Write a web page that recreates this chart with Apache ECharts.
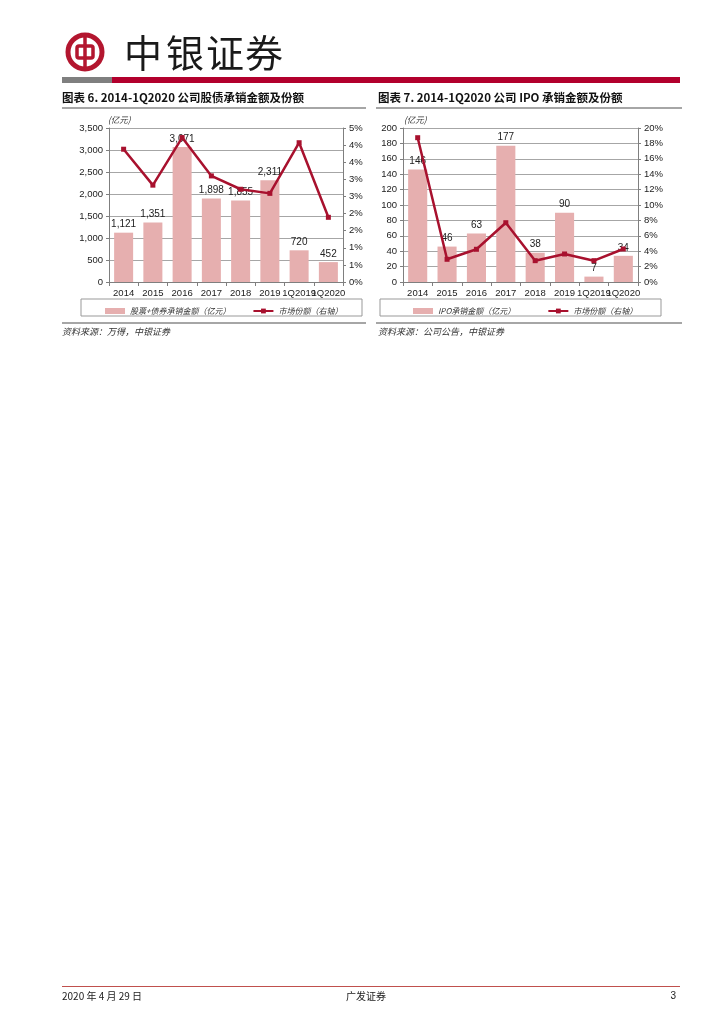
<!DOCTYPE html>
<html>
<head>
<meta charset="utf-8">
<script src="https://cdn.jsdelivr.net/npm/echarts@6/dist/echarts.min.js"></script>
<style>
html,body{margin:0;padding:0;background:#fff;}
#page{width:724px;height:1024px;}
</style>
</head>
<body>
<div id="page"></div>
<script>
// ---- data ----
const categories = ['2014', '2015', '2016', '2017', '2018', '2019', '1Q2019', '1Q2020'];
const equityDebtAmount = [1121, 1351, 3071, 1898, 1855, 2311, 720, 452];      // 亿元
const equityDebtShare = [3.88, 2.83, 4.22, 3.10, 2.71, 2.59, 4.07, 1.89];     // %
const ipoAmount = [146, 46, 63, 177, 38, 90, 7, 34];                          // 亿元
const ipoShare = [18.74, 2.95, 4.25, 7.70, 2.77, 3.64, 2.77, 4.29];           // %
const leftAxis1 = [0, 3500, 500];   // min, max, interval
const rightAxis1 = [0, 4.5, 0.5];
const leftAxis2 = [0, 200, 20];
const rightAxis2 = [0, 20, 2];

const RED = '#A8112E';
const BAR = '#E6AFAF';
const GRID = '#A6A6A6';
const AXIS = '#7F7F7F';
const TXT = '#222';
const NUMFONT = 'Liberation Sans';
const CJK = 'Noto Sans CJK SC';

const chart = echarts.init(document.getElementById('page'), null, {renderer: 'canvas', width: 724, height: 1024});

function fmtThousands(v) { return String(v).replace(/\B(?=(\d{3})+(?!\d))/g, ','); }
function fmtPct(v) { return Math.round(Math.round(v * 10) / 10) + '%'; }

function xAxis(gi) {
  return {
    type: 'category', gridIndex: gi, data: categories,
    axisLine: {lineStyle: {color: AXIS, width: 1}},
    axisTick: {show: true, length: 4, lineStyle: {color: AXIS}},
    axisLabel: {interval: 0, color: TXT, fontFamily: NUMFONT, fontSize: 9.5, margin: 6}
  };
}
function yAxis(gi, cfg, pos, fmt, grid) {
  return {
    type: 'value', gridIndex: gi, position: pos, min: cfg[0], max: cfg[1], interval: cfg[2],
    axisLine: {show: true, lineStyle: {color: AXIS, width: 1}},
    axisTick: {show: true, length: 3, lineStyle: {color: AXIS}},
    splitLine: {show: grid, lineStyle: {color: GRID, width: 1}},
    axisLabel: {color: TXT, fontFamily: NUMFONT, fontSize: 9.5, margin: 6, formatter: fmt}
  };
}
function barSeries(name, data, xi, yi) {
  return {
    name: name, type: 'bar', xAxisIndex: xi, yAxisIndex: yi, data: data, barWidth: '65%',
    itemStyle: {color: BAR},
    label: {show: true, position: 'top', distance: 3, color: TXT, fontFamily: NUMFONT, fontSize: 10,
      formatter: p => fmtThousands(p.value)},
    z: 2
  };
}
function lineSeries(name, data, xi, yi) {
  return {
    name: name, type: 'line', xAxisIndex: xi, yAxisIndex: yi, data: data,
    symbol: 'rect', symbolSize: 5, lineStyle: {color: RED, width: 2.5},
    itemStyle: {color: RED}, z: 5
  };
}

const gfx = [];
// header logo
gfx.push({type: 'circle', shape: {cx: 85, cy: 52, r: 17}, style: {fill: 'none', stroke: '#B3162F', lineWidth: 5}});
gfx.push({type: 'rect', shape: {x: 77, y: 46, width: 16, height: 12, r: 2}, style: {fill: 'none', stroke: '#B3162F', lineWidth: 3.5}});
gfx.push({type: 'line', shape: {x1: 85, y1: 36, x2: 85, y2: 68}, style: {stroke: '#B3162F', lineWidth: 3.5}});
const headChars = ['中', '银', '证', '券'];
const headX = [143, 185, 225, 264];
headChars.forEach((c, i) => gfx.push({type: 'text', x: headX[i], y: 53,
  style: {text: c, fontSize: 38, fontFamily: CJK, fill: '#1a1a1a', align: 'center', verticalAlign: 'middle'}}));
// header bars
gfx.push({type: 'rect', shape: {x: 62, y: 77, width: 50, height: 6}, style: {fill: '#7F7F7F'}});
gfx.push({type: 'rect', shape: {x: 112, y: 77, width: 568, height: 6}, style: {fill: '#B2002D'}});
// titles
gfx.push({type: 'text', x: 62, y: 98, style: {text: '图表 6. 2014-1Q2020 公司股债承销金额及份额', fontSize: 11.5, fontWeight: 'bold', fontFamily: CJK, fill: '#111', verticalAlign: 'middle'}});
gfx.push({type: 'text', x: 378, y: 98, style: {text: '图表 7. 2014-1Q2020 公司 IPO 承销金额及份额', fontSize: 11.5, fontWeight: 'bold', fontFamily: CJK, fill: '#111', verticalAlign: 'middle'}});
gfx.push({type: 'rect', shape: {x: 62, y: 107, width: 304, height: 2}, style: {fill: '#A6A6A6'}});
gfx.push({type: 'rect', shape: {x: 376, y: 107, width: 306, height: 2}, style: {fill: '#A6A6A6'}});
// unit labels
gfx.push({type: 'text', x: 108, y: 120, style: {text: '(亿元)', fontSize: 8.5, fontFamily: CJK, fontStyle: 'italic', fill: '#333', verticalAlign: 'middle'}});
gfx.push({type: 'text', x: 404, y: 120, style: {text: '(亿元)', fontSize: 8.5, fontFamily: CJK, fontStyle: 'italic', fill: '#333', verticalAlign: 'middle'}});
// legend boxes
gfx.push({type: 'rect', shape: {x: 81, y: 299, width: 281, height: 17}, style: {fill: 'none', stroke: '#999', lineWidth: 1}});
gfx.push({type: 'rect', shape: {x: 380, y: 299, width: 281, height: 17}, style: {fill: 'none', stroke: '#999', lineWidth: 1}});
// bottom rules
gfx.push({type: 'rect', shape: {x: 62, y: 322, width: 304, height: 2}, style: {fill: '#A6A6A6'}});
gfx.push({type: 'rect', shape: {x: 376, y: 322, width: 306, height: 2}, style: {fill: '#A6A6A6'}});
// sources
gfx.push({type: 'text', x: 62, y: 332, style: {text: '资料来源：万得，中银证券', fontSize: 9, fontFamily: CJK, fontStyle: 'italic', fill: '#333', verticalAlign: 'middle'}});
gfx.push({type: 'text', x: 378, y: 332, style: {text: '资料来源：公司公告，中银证券', fontSize: 9, fontFamily: CJK, fontStyle: 'italic', fill: '#333', verticalAlign: 'middle'}});
// footer
gfx.push({type: 'rect', shape: {x: 62, y: 986, width: 618, height: 1}, style: {fill: '#C0504D'}});
gfx.push({type: 'text', x: 62, y: 996, style: {text: '2020 年 4 月 29 日', fontSize: 10, fontFamily: CJK, fill: '#222', verticalAlign: 'middle'}});
gfx.push({type: 'text', x: 366, y: 996, style: {text: '广发证券', fontSize: 10, fontFamily: CJK, fill: '#222', align: 'center', verticalAlign: 'middle'}});
gfx.push({type: 'text', x: 676, y: 996, style: {text: '3', fontSize: 10, fontFamily: NUMFONT, fill: '#222', align: 'right', verticalAlign: 'middle'}});

const legendText = {color: '#333', fontFamily: CJK, fontSize: 8, fontStyle: 'italic'};
const option = {
  animation: false,
  backgroundColor: '#fff',
  grid: [
    {left: 109, top: 128, width: 234, height: 154},
    {left: 403, top: 128, width: 235, height: 154}
  ],
  xAxis: [xAxis(0), xAxis(1)],
  yAxis: [
    yAxis(0, leftAxis1, 'left', fmtThousands, true),
    yAxis(0, rightAxis1, 'right', fmtPct, false),
    yAxis(1, leftAxis2, 'left', v => String(v), true),
    yAxis(1, rightAxis2, 'right', v => Math.round(v) + '%', false)
  ],
  legend: [
    {left: 100, top: 302, itemWidth: 20, itemHeight: 6, itemGap: 22, textStyle: legendText,
      data: [{name: '股票+债券承销金额（亿元）', icon: 'rect'}, {name: '市场份额（右轴）'}]},
    {left: 408, top: 302, itemWidth: 20, itemHeight: 6, itemGap: 32, textStyle: legendText,
      data: [{name: 'IPO承销金额（亿元）', icon: 'rect'}, {name: '市场份额（右轴） '}]}
  ],
  series: [
    barSeries('股票+债券承销金额（亿元）', equityDebtAmount, 0, 0),
    lineSeries('市场份额（右轴）', equityDebtShare, 0, 1),
    barSeries('IPO承销金额（亿元）', ipoAmount, 1, 2),
    lineSeries('市场份额（右轴） ', ipoShare, 1, 3)
  ],
  graphic: gfx
};
chart.setOption(option);
</script>
</body>
</html>
